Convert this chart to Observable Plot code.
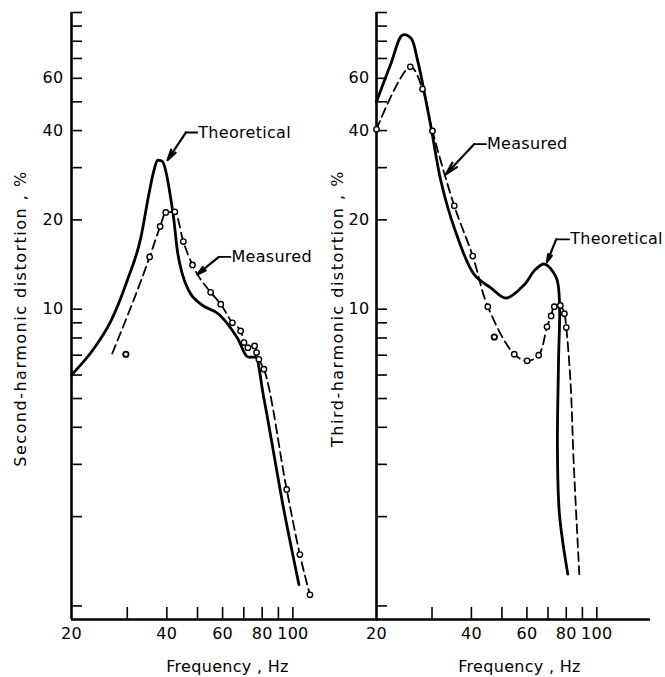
<!DOCTYPE html>
<html>
<head>
<meta charset="utf-8">
<script src="https://cdn.jsdelivr.net/npm/d3@7"></script>
<script src="https://cdn.jsdelivr.net/npm/@observablehq/plot@0.6"></script>
<style>
html, body { margin: 0; padding: 0; background: #fff; }
#chart { position: relative; width: 665px; height: 677px; overflow: hidden; background: #fff; }
#chart svg { position: absolute; left: 0; top: 0; }
#chart text { letter-spacing: 0.3px; }
</style>
</head>
<body>
<div id="chart"></div>
<script>
// ---- axis ticks ----
const yTickValues = [1, 2, 3, 4, 5, 6, 7, 8, 9, 10, 20, 30, 40, 50, 60, 70, 80, 90, 100];
const yTickLabels = [10, 20, 40, 60];
const xTickValues = [30, 40, 50, 60, 70, 80, 90, 100];
const xTickLabels = [20, 40, 60, 80, 100];
const yDomain = [0.9, 100];
const xLabel = "Frequency , Hz";

// ---- Second-harmonic panel ----
const secondYLabel = "Second-harmonic distortion , %";
const secondTheoFreq = [20, 23.6, 26.6, 30, 33.1, 35.1, 36.4, 37.4, 38.7, 39.9, 41.1, 42.0, 43.2, 44.8, 47.0, 51.2, 58.5, 66.8, 72.3, 76.3, 81.0, 93.7, 104.5];
const secondTheoPct  = [6.0, 7.4, 9.1, 12.5, 17.4, 24.4, 29.3, 31.8, 31.5, 28.5, 23.8, 20.4, 15.7, 13.1, 11.5, 10.4, 9.6, 8.0, 6.9, 6.9, 5.0, 2.1, 1.18];
const secondMeasStart = [26.9, 7.1];
const secondMeasFreq = [35.3, 38.1, 39.7, 42.4, 45.1, 48.2, 55.0, 59.2, 64.4, 68.4, 70.1, 72.1, 75.7, 76.8, 78.1, 81.0, 95.6, 105.2, 113.2];
const secondMeasPct  = [15.0, 19.0, 21.2, 21.3, 16.9, 14.1, 11.4, 10.4, 9.0, 8.45, 7.72, 7.42, 7.52, 7.14, 6.78, 6.28, 2.47, 1.49, 1.09];
const secondStrayFreq = [29.7];
const secondStrayPct = [7.05];
// annotation: [text, textFreq, textPct, elbowFreq, tipFreq, tipPct]
const secondNotes = [
  ["Theoretical", 49.9, 39.4, 45.9, 40.2, 31.8],
  ["Measured", 63.5, 15.0, 58.4, 49.9, 13.1]
];

// ---- Third-harmonic panel ----
const thirdYLabel = "Third-harmonic distortion , %";
const thirdTheoFreq = [20, 22.2, 24.2, 25.7, 27.0, 28.3, 29.8, 32.0, 35.3, 40.8, 46.1, 51.5, 58.9, 63.4, 68.2, 74.3, 76.1, 75.6, 75.0, 76.1, 80.9];
const thirdTheoPct  = [50, 67, 84, 82, 69, 54.5, 41, 27.1, 18.8, 13.1, 11.8, 10.9, 12.1, 13.5, 14.2, 12.8, 10.7, 6.7, 3.4, 2.04, 1.28];
const thirdMeasFreq = [20, 25.6, 28.0, 30.1, 35.3, 40.4, 45.1, 54.7, 60.1, 65.4, 69.5, 71.6, 73.3, 76.6, 78.9, 80.0];
const thirdMeasPct  = [40.4, 65.6, 55.2, 39.9, 22.3, 15.1, 10.2, 7.05, 6.7, 7.0, 8.72, 9.49, 10.2, 10.3, 9.66, 8.67];
const thirdMeasTailFreq = [82.5, 84.5, 88.0];
const thirdMeasTailPct  = [5.7, 3.0, 1.28];
const thirdStrayFreq = [47.3];
const thirdStrayPct = [8.06];
const thirdNotes = [
  ["Measured", 44.5, 36.0, 40.8, 33.2, 28.5],
  ["Theoretical", 81.7, 17.2, 74.3, 69.5, 14.4]
];

const zip = (fs, ps) => fs.map((f, i) => ({f, p: ps[i]}));
const FS = 16;

function panel(cfg) {
  const theo = zip(cfg.theoF, cfg.theoP);
  const dots = zip(cfg.measF, cfg.measP);
  const measLine = [...cfg.lineHead, ...dots, ...cfg.lineTail];
  const stray = zip(cfg.strayF, cfg.strayP);
  const notes = cfg.notes.map(([t, tf, tp, ef, xf, xp]) => ({t, tf, tp, ef, xf, xp}));
  const leaders = notes.flatMap((n, i) => [{k: i, f: n.tf, p: n.tp}, {k: i, f: n.ef, p: n.tp}]);
  return Plot.plot({
    width: 665,
    height: 677,
    marginTop: 12,
    marginBottom: 58,
    marginLeft: cfg.marginLeft,
    marginRight: cfg.marginRight,
    x: {type: "log", domain: cfg.xDomain, axis: null},
    y: {type: "log", domain: yDomain, axis: null},
    style: {background: "transparent", fontFamily: "DejaVu Sans, sans-serif", fontSize: FS + "px", color: "#000", overflow: "visible"},
    marks: [
      // axis lines
      Plot.ruleX([20], {y1: yDomain[0], y2: 100, stroke: "#000", strokeWidth: 2.6}),
      Plot.ruleY([yDomain[0]], {x1: cfg.xDomain[0], x2: cfg.xDomain[1], stroke: "#000", strokeWidth: 2.4}),
      // inward ticks
      Plot.axisY(yTickValues, {anchor: "left", tickSize: -11, tickFormat: () => "", label: null, strokeWidth: 1.6}),
      Plot.ruleX(xTickValues, {x: d => d, insetTop: 595, stroke: "#000", strokeWidth: 1.6}),
      // tick labels
      Plot.axisY(yTickLabels, {anchor: "left", tickSize: 0, tickPadding: cfg.yPad, tickFormat: d => String(d), label: null, fontSize: FS}),
      Plot.text(xTickLabels, {x: d => d, frameAnchor: "bottom", lineAnchor: "top", dy: 8, fontSize: FS, text: d => String(d)}),
      // axis titles
      Plot.text([cfg.yLabel], {frameAnchor: "left", textAnchor: "middle", dx: cfg.yLabelDx, dy: cfg.yLabelDy, rotate: -90, fontSize: FS, lineAnchor: "middle"}),
      Plot.text([xLabel], {frameAnchor: "bottom", textAnchor: "middle", dx: cfg.xLabelDx, dy: 47, fontSize: FS, lineAnchor: "middle"}),
      // data
      Plot.line(theo, {x: "f", y: "p", curve: cfg.theoCurve, stroke: "#000", strokeWidth: 2.8, strokeLinejoin: "round"}),
      Plot.line(measLine, {x: "f", y: "p", curve: cfg.measCurve, stroke: "#000", strokeWidth: 1.8, strokeDasharray: "9,5"}),
      Plot.dot(dots, {x: "f", y: "p", r: 2.7, fill: "white", stroke: "#000", strokeWidth: 1.4}),
      Plot.dot(stray, {x: "f", y: "p", r: 2.7, fill: "white", stroke: "#000", strokeWidth: 1.8}),
      // annotations
      Plot.line(leaders, {x: "f", y: "p", z: "k", stroke: "#000", strokeWidth: 1.8}),
      Plot.arrow(notes, {x1: "ef", y1: "tp", x2: "xf", y2: "xp", stroke: "#000", strokeWidth: 2.2, headLength: 9, headAngle: 28}),
      Plot.text(notes, {x: "tf", y: "tp", text: "t", textAnchor: "start", lineAnchor: "middle", dx: 1, fontSize: FS})
    ]
  });
}

const left = panel({
  marginLeft: 71, marginRight: 288, xDomain: [20, 185], yPad: 8,
  theoCurve: "monotone-x", measCurve: "monotone-x",
  theoF: secondTheoFreq, theoP: secondTheoPct,
  measF: secondMeasFreq, measP: secondMeasPct,
  lineHead: [{f: secondMeasStart[0], p: secondMeasStart[1]}], lineTail: [],
  strayF: secondStrayFreq, strayP: secondStrayPct,
  notes: secondNotes, yLabel: secondYLabel, yLabelDx: -51, yLabelDy: 2.5, xLabelDx: 3
});
const right = panel({
  marginLeft: 376, marginRight: 15, xDomain: [20, 148], yPad: 7,
  theoCurve: "catmull-rom", measCurve: "catmull-rom",
  theoF: thirdTheoFreq, theoP: thirdTheoPct,
  measF: thirdMeasFreq, measP: thirdMeasPct,
  lineHead: [], lineTail: zip(thirdMeasTailFreq, thirdMeasTailPct),
  strayF: thirdStrayFreq, strayP: thirdStrayPct,
  notes: thirdNotes, yLabel: thirdYLabel, yLabelDx: -39, yLabelDy: -7.5, xLabelDx: 6
});
const chart = document.getElementById("chart");
chart.appendChild(left);
chart.appendChild(right);
d3.selectAll("#chart svg text").filter(function () { return this.textContent.includes("distortion"); })
  .style("letter-spacing", "1.5px");
</script>
</body>
</html>
